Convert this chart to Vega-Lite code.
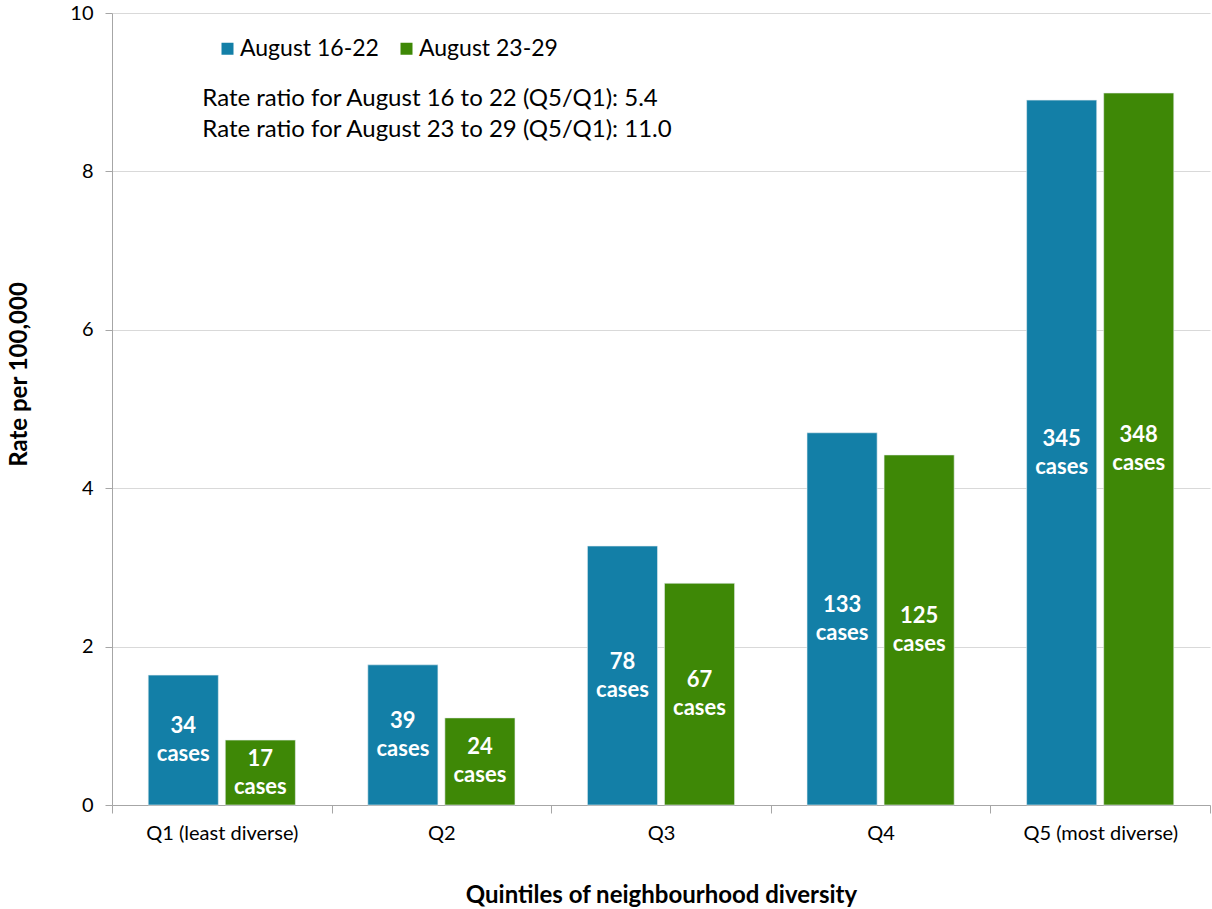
{
  "$schema": "https://vega.github.io/schema/vega-lite/v6.json",
  "autosize": {"type": "none"},
  "width": 1098,
  "height": 792,
  "padding": {"left": 112, "top": 13, "right": 2, "bottom": 104},
  "background": "white",
  "config": {
    "font": "Lato",
    "view": {"stroke": null},
    "axis": {"labelFont": "Lato", "titleFont": "Lato", "labelColor": "#000000", "titleColor": "#000000"}
  },
  "data": {
    "values": [
      {"quintile": "Q1 (least diverse)", "period": "August 16-22", "rate": 1.64, "label": "34\ncases"},
      {"quintile": "Q1 (least diverse)", "period": "August 23-29", "rate": 0.82, "label": "17\ncases"},
      {"quintile": "Q2", "period": "August 16-22", "rate": 1.77, "label": "39\ncases"},
      {"quintile": "Q2", "period": "August 23-29", "rate": 1.10, "label": "24\ncases"},
      {"quintile": "Q3", "period": "August 16-22", "rate": 3.27, "label": "78\ncases"},
      {"quintile": "Q3", "period": "August 23-29", "rate": 2.80, "label": "67\ncases"},
      {"quintile": "Q4", "period": "August 16-22", "rate": 4.70, "label": "133\ncases"},
      {"quintile": "Q4", "period": "August 23-29", "rate": 4.42, "label": "125\ncases"},
      {"quintile": "Q5 (most diverse)", "period": "August 16-22", "rate": 8.90, "label": "345\ncases"},
      {"quintile": "Q5 (most diverse)", "period": "August 23-29", "rate": 8.99, "label": "348\ncases"}
    ]
  },
  "encoding": {
    "x": {
      "field": "quintile", "type": "nominal", "sort": null,
      "scale": {"paddingInner": 0, "paddingOuter": 0},
      "axis": {
        "title": "Quintiles of neighbourhood diversity",
        "titleFontSize": 24, "titleFontWeight": "bold", "titlePadding": 40,
        "labelFontSize": 20, "labelAngle": 0, "labelPadding": 10,
        "tickBand": "extent", "tickSize": 8, "tickColor": "#a6a6a6",
        "domainColor": "#a6a6a6", "grid": false
      }
    },
    "xOffset": {
      "field": "period", "type": "nominal",
      "scale": {"paddingInner": 0.09, "paddingOuter": 0.47}
    }
  },
  "layer": [
    {
      "mark": {"type": "bar", "stroke": "#e8eef2", "strokeWidth": 0.6},
      "encoding": {
        "y": {
          "field": "rate", "type": "quantitative",
          "scale": {"domain": [0, 10]},
          "axis": {
            "title": "Rate per 100,000", "titleFontSize": 24, "titleFontWeight": "bold", "titlePadding": 38,
            "titleY": 361,
            "values": [0, 2, 4, 6, 8, 10], "format": "d",
            "labelFontSize": 20, "labelPadding": 12,
            "tickSize": 7, "tickColor": "#a6a6a6",
            "domainColor": "#a6a6a6", "grid": true, "gridColor": "#d9d9d9"
          }
        },
        "color": {
          "field": "period", "type": "nominal",
          "scale": {"domain": ["August 16-22", "August 23-29"], "range": ["#137FA7", "#3E8806"]},
          "legend": {
            "title": null, "orient": "none", "direction": "horizontal",
            "legendX": 104, "legendY": 24,
            "symbolType": "square", "symbolSize": 144, "symbolStrokeWidth": 0,
            "labelFontSize": 23, "labelFont": "Lato", "labelColor": "#000000",
            "columnPadding": 16, "labelOffset": 1
          }
        }
      }
    },
    {
      "transform": [{"calculate": "datum.rate / 2", "as": "mid"}],
      "mark": {"type": "text", "color": "white", "fontWeight": "bold", "fontSize": 22, "lineBreak": "\n", "lineHeight": 28, "baseline": "middle", "dy": -14},
      "encoding": {
        "y": {"field": "mid", "type": "quantitative"},
        "text": {"field": "label"}
      }
    },
    {
      "data": {"values": [
        {"note": "Rate ratio for August 16 to 22 (Q5/Q1): 5.4", "pos": 8.91},
        {"note": "Rate ratio for August 23 to 29  (Q5/Q1): 11.0", "pos": 8.52}
      ]},
      "mark": {"type": "text", "align": "left", "baseline": "middle", "fontSize": 24, "color": "#000000", "dx": 19},
      "encoding": {
        "x": {"datum": "Q1 (least diverse)"},
        "xOffset": {"datum": "August 16-22"},
        "y": {"field": "pos", "type": "quantitative"},
        "text": {"field": "note"}
      }
    }
  ]
}
